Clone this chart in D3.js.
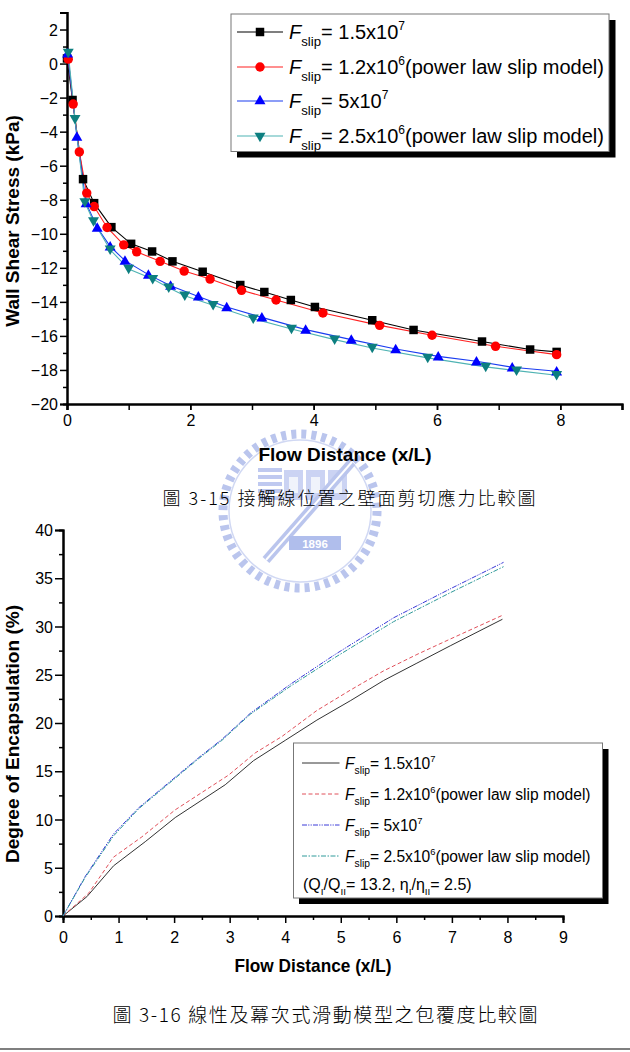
<!DOCTYPE html>
<html><head><meta charset="utf-8">
<script src="https://cdn.jsdelivr.net/npm/d3@7"></script>
<style>body{margin:0;background:#fff}svg{display:block}</style>
</head><body>
<svg id="c" width="630" height="1052"></svg>
<script>
// ---------- DATA ----------
// Figure 3-15: wall shear stress (kPa) vs flow distance (x/L)
const shearXTicks = [0, 2, 4, 6, 8];
const shearYTicks = [-20, -18, -16, -14, -12, -10, -8, -6, -4, -2, 0, 2];
const shearBlackX = [0.0, 0.09, 0.26, 0.44, 0.72, 1.04, 1.38, 1.71, 2.2, 2.81, 3.2, 3.63, 4.02, 4.95, 5.62, 6.73, 7.51, 7.94];
const shearBlackY = [0.3, -2.14, -6.79, -8.2, -9.61, -10.59, -11.04, -11.62, -12.23, -13.01, -13.42, -13.89, -14.3, -15.08, -15.65, -16.33, -16.8, -16.94];
const shearRedX = [0.02, 0.1, 0.2, 0.32, 0.44, 0.65, 0.92, 1.13, 1.51, 1.9, 2.32, 2.83, 3.39, 4.15, 5.07, 5.92, 6.95, 7.94];
const shearRedY = [0.26, -2.38, -5.19, -7.61, -8.4, -9.63, -10.65, -11.06, -11.62, -12.19, -12.66, -13.32, -13.89, -14.65, -15.38, -15.96, -16.61, -17.1];
const shearBlueX = [0.01, 0.16, 0.31, 0.49, 0.7, 0.94, 1.32, 1.68, 2.13, 2.59, 3.16, 3.87, 4.61, 5.33, 6.02, 6.64, 7.22, 7.94];
const shearBlueY = [0.6, -4.29, -8.2, -9.63, -10.74, -11.58, -12.4, -13.05, -13.68, -14.3, -14.91, -15.63, -16.22, -16.77, -17.2, -17.49, -17.84, -18.08];
const shearTealX = [0.02, 0.13, 0.29, 0.43, 0.7, 1.0, 1.39, 1.65, 1.91, 2.37, 3.02, 3.64, 4.34, 4.95, 5.85, 6.79, 7.29, 7.94];
const shearTealY = [0.63, -3.27, -8.16, -9.28, -10.94, -12.07, -12.66, -13.17, -13.64, -14.2, -14.99, -15.59, -16.22, -16.71, -17.29, -17.82, -18.04, -18.31];

// Figure 3-16: degree of encapsulation (%) vs flow distance (x/L)
const encXTicks = [0, 1, 2, 3, 4, 5, 6, 7, 8, 9];
const encYTicks = [0, 5, 10, 15, 20, 25, 30, 35, 40];
const encBlackX = [0, 0.43, 0.91, 1.48, 2.02, 2.92, 3.43, 4.0, 4.57, 5.17, 5.77, 6.37, 6.97, 7.91];
const encBlackY = [0, 2.0, 5.2, 7.7, 10.2, 13.6, 16.1, 18.2, 20.3, 22.3, 24.4, 26.2, 28.0, 30.75];
const encRedX = [0, 0.46, 0.91, 1.42, 2.02, 2.98, 3.46, 3.94, 4.57, 5.17, 5.77, 6.37, 6.97, 7.91];
const encRedY = [0, 2.35, 6.1, 8.2, 11.0, 14.6, 16.9, 18.6, 21.3, 23.4, 25.4, 27.1, 28.7, 31.16];
const encBlueX = [0, 0.4, 0.91, 1.36, 1.9, 2.44, 2.86, 3.37, 4.09, 4.87, 5.95, 6.97, 7.93];
const encBlueY = [0, 4.1, 8.5, 11.2, 13.8, 16.4, 18.3, 21.0, 24.0, 27.0, 30.9, 33.9, 36.65];
const encTealX = [0, 0.4, 0.91, 1.36, 1.9, 2.44, 2.86, 3.37, 4.09, 4.87, 5.95, 6.97, 7.93];
const encTealY = [0, 4.0, 8.3, 11.1, 13.7, 16.3, 18.2, 20.9, 23.8, 26.7, 30.5, 33.5, 36.2];

// Legend texts
const legendValues = ["1.5x10", "1.2x10", "5x10", "2.5x10"];
const legendExps = ["7", "6", "7", "6"];
const legendTails = ["", "(power law slip model)", "", "(power law slip model)"];

const topTitleY = "Wall Shear Stress (kPa)";
const topTitleX = "Flow Distance (x/L)";
const botTitleY = "Degree of Encapsulation (%)";
const botTitleX = "Flow Distance (x/L)";
const caption1 = "圖 3-15 接觸線位置之壁面剪切應力比較圖";
const caption2 = "圖 3-16 線性及冪次式滑動模型之包覆度比較圖";

// ---------- DRAW ----------
(function () {
const FONT = "'Liberation Sans', Arial, sans-serif";
const svg = d3.select("#c");
svg.append("rect").attr("width", 630).attr("height", 1052).attr("fill", "#fff");

// watermark (faint logo, shapes only)
(function () {
  const w = svg.append("g").attr("opacity", 0.85);
  const cx = 300, cy = 511;
  w.append("circle").attr("cx", cx).attr("cy", cy).attr("r", 77)
    .attr("fill", "none").attr("stroke", "#aebbeb").attr("stroke-width", 9)
    .attr("stroke-dasharray", "5,5.1");
  w.append("circle").attr("cx", cx).attr("cy", cy).attr("r", 71)
    .attr("fill", "none").attr("stroke", "#c9d2f2").attr("stroke-width", 1.5);
  for (let i = 0; i < 5; i++) {
    w.append("rect").attr("x", 258).attr("y", 468 + i * 7).attr("width", 24).attr("height", 4).attr("fill", "#b4c0ee");
  }
  for (let i = 0; i < 3; i++) {
    w.append("rect").attr("x", 284 + i * 22).attr("y", 470).attr("width", 19).attr("height", 30)
      .attr("fill", "#c2ccf1");
    w.append("rect").attr("x", 289 + i * 22).attr("y", 477).attr("width", 9).attr("height", 16)
      .attr("fill", "#eef1fb");
  }
  w.append("line").attr("x1", 352).attr("y1", 462).attr("x2", 266).attr("y2", 560)
    .attr("stroke", "#aebbeb").attr("stroke-width", 9);
  w.append("line").attr("x1", 352).attr("y1", 462).attr("x2", 266).attr("y2", 560)
    .attr("stroke", "#fff").attr("stroke-width", 2);
  w.append("rect").attr("x", 289).attr("y", 536).attr("width", 52).attr("height", 14).attr("fill", "#a3b3e9");
  w.append("text").attr("x", 315).attr("y", 547.5).attr("text-anchor", "middle")
    .attr("font-family", FONT).attr("font-weight", "bold").attr("font-size", 11.5).attr("fill", "#fff").text("1896");
})();

function drawAxes(g, x, y, o) {
  const xa = g.append("g").attr("transform", `translate(0,${y.range()[0]})`);
  xa.call(d3.axisBottom(x).tickValues(o.xMinor).tickSize(o.xMinorLen).tickFormat(""));
  xa.append("g").call(d3.axisBottom(x).tickValues(o.xTicks).tickSize(o.xMajorLen).tickFormat(d3.format("d")));
  const ya = g.append("g").attr("transform", `translate(${x.range()[0]},0)`);
  ya.call(d3.axisLeft(y).tickValues(o.yMinor).tickSize(o.yMinorLen).tickFormat(""));
  ya.append("g").call(d3.axisLeft(y).tickValues(o.yTicks).tickSize(o.yMajorLen).tickFormat(d3.format("d")));
  [xa, ya].forEach(a => {
    a.selectAll("path.domain").attr("stroke", "#000").attr("stroke-width", 2);
    a.selectAll(".tick line").attr("stroke", "#000").attr("stroke-width", 1.5);
    a.selectAll("text").attr("font-family", FONT).attr("font-size", o.fs).attr("fill", "#000");
  });
  xa.selectAll("text").attr("dy", null).attr("y", o.xLabelY);
  ya.selectAll("text").attr("x", -o.yLabelX).attr("dy", "0.35em");
}

// ----- Top chart -----
const gx1 = d3.scaleLinear().domain([0, 9]).range([67, 622]);
const gy1 = d3.scaleLinear().domain([-20, 3]).range([404, 12.5]);
const topG = svg.append("g");
drawAxes(topG, gx1, gy1, {
  xTicks: shearXTicks, xMinor: d3.range(0, 10, 1), xMajorLen: 6, xMinorLen: 6,
  yTicks: shearYTicks, yMinor: d3.range(-19, 4, 2), yMajorLen: 7, yMinorLen: 4,
  fs: 16, xLabelY: 22, yLabelX: 9
});
topG.append("text").attr("transform", "translate(18.5,221) rotate(-90)")
  .attr("text-anchor", "middle").attr("font-family", FONT).attr("font-weight", "bold")
  .attr("font-size", 19).text(topTitleY);
topG.append("text").attr("x", 345).attr("y", 461).attr("text-anchor", "middle")
  .attr("font-family", FONT).attr("font-weight", "bold").attr("font-size", 19).text(topTitleX);

const topSeries = [
  { xs: shearBlackX, ys: shearBlackY, line: "#000", fill: "#000", sym: d3.symbolSquare, size: 72, rot: 0 },
  { xs: shearRedX, ys: shearRedY, line: "#ff2020", fill: "#ff0000", sym: d3.symbolCircle, size: 70, rot: 0 },
  { xs: shearBlueX, ys: shearBlueY, line: "#1a3cf0", fill: "#0000ff", sym: d3.symbolTriangle, size: 52, rot: 0 },
  { xs: shearTealX, ys: shearTealY, line: "#4fb3b3", fill: "#0d7f80", sym: d3.symbolTriangle, size: 52, rot: 180 }
];
const line1 = d3.line().x(d => gx1(d[0])).y(d => gy1(d[1]));
topSeries.forEach(s => {
  const pts = s.xs.map((v, i) => [v, s.ys[i]]);
  topG.append("path").datum(pts).attr("d", line1).attr("fill", "none")
    .attr("stroke", s.line).attr("stroke-width", 1.1);
});
topSeries.forEach(s => {
  const pts = s.xs.map((v, i) => [v, s.ys[i]]);
  topG.append("g").selectAll("path").data(pts).join("path")
    .attr("d", d3.symbol().type(s.sym).size(s.size))
    .attr("transform", d => `translate(${gx1(d[0])},${gy1(d[1]) + (s.sym === d3.symbolTriangle ? (s.rot ? -1 : 1) : 0)}) rotate(${s.rot})`)
    .attr("fill", s.fill);
});

function fslip(g, x, y, i, fs) {
  const t = g.append("text").attr("x", x).attr("y", y).attr("font-family", FONT)
    .attr("font-size", fs).attr("fill", "#000");
  t.append("tspan").attr("font-style", "italic").text("F");
  t.append("tspan").attr("font-size", fs * 0.66).attr("dy", fs * 0.33).text("slip");
  t.append("tspan").attr("dy", -fs * 0.33).text("= " + legendValues[i]);
  t.append("tspan").attr("font-size", fs * 0.6).attr("dy", -fs * 0.45).text(legendExps[i]);
  if (legendTails[i]) t.append("tspan").attr("dy", fs * 0.45).text(legendTails[i]);
}

// top legend
const lg1 = topG.append("g");
lg1.append("rect").attr("x", 237).attr("y", 20).attr("width", 378.5).attr("height", 137.5).attr("fill", "#000");
lg1.append("rect").attr("x", 231).attr("y", 14).attr("width", 378).attr("height", 137.5)
  .attr("fill", "#fff").attr("stroke", "#777").attr("stroke-width", 1);
const rows1 = [32, 67, 101, 136];
topSeries.forEach((s, i) => {
  lg1.append("line").attr("x1", 237).attr("x2", 283).attr("y1", rows1[i]).attr("y2", rows1[i])
    .attr("stroke", s.line).attr("stroke-width", 1.1);
  lg1.append("path").attr("d", d3.symbol().type(s.sym).size(s.size)())
    .attr("transform", `translate(260,${rows1[i]}) rotate(${s.rot})`).attr("fill", s.fill);
  fslip(lg1, 289, rows1[i] + 7, i, 20);
});

// caption 1
svg.append("text").attr("x", 349).attr("y", 505).attr("text-anchor", "middle")
  .attr("font-family", "'Noto Sans CJK TC', sans-serif").attr("font-size", 18).attr("font-weight", 300)
  .attr("textLength", 373).attr("lengthAdjust", "spacing").text(caption1);

// ----- Bottom chart -----
const gx2 = d3.scaleLinear().domain([0, 9]).range([63, 563]);
const gy2 = d3.scaleLinear().domain([0, 40]).range([916, 530]);
const botG = svg.append("g");
drawAxes(botG, gx2, gy2, {
  xTicks: encXTicks, xMinor: d3.range(0.5, 9, 1), xMajorLen: 7, xMinorLen: 4,
  yTicks: encYTicks, yMinor: d3.range(2.5, 40, 5), yMajorLen: 8, yMinorLen: 4,
  fs: 16, xLabelY: 27, yLabelX: 10
});
botG.append("text").attr("transform", "translate(18.5,734) rotate(-90)")
  .attr("text-anchor", "middle").attr("font-family", FONT).attr("font-weight", "bold")
  .attr("font-size", 19).attr("textLength", 258).attr("lengthAdjust", "spacingAndGlyphs").text(botTitleY);
botG.append("text").attr("x", 313).attr("y", 972).attr("text-anchor", "middle")
  .attr("font-family", FONT).attr("font-weight", "bold").attr("font-size", 19)
  .attr("textLength", 157).attr("lengthAdjust", "spacingAndGlyphs").text(botTitleX);

const botSeries = [
  { xs: encBlackX, ys: encBlackY, color: "#333", dash: null },
  { xs: encRedX, ys: encRedY, color: "#e0505a", dash: "4,2.5" },
  { xs: encBlueX, ys: encBlueY, color: "#3a3ad8", dash: "5,1.2,1.2,1.2,1.2,1.2" },
  { xs: encTealX, ys: encTealY, color: "#2f9a9a", dash: "5,1.5,1.5,1.5" }
];
const line2 = d3.line().x(d => gx2(d[0])).y(d => gy2(d[1]));
botSeries.forEach(s => {
  const pts = s.xs.map((v, i) => [v, s.ys[i]]);
  botG.append("path").datum(pts).attr("d", line2).attr("fill", "none")
    .attr("stroke", s.color).attr("stroke-width", 1).attr("stroke-dasharray", s.dash);
});

// bottom legend
const lg2 = botG.append("g");
lg2.append("rect").attr("x", 299).attr("y", 749).attr("width", 309.5).attr("height", 155).attr("fill", "#000");
lg2.append("rect").attr("x", 293.5).attr("y", 743).attr("width", 309).attr("height", 155)
  .attr("fill", "#fff").attr("stroke", "#777").attr("stroke-width", 1);
const rows2 = [763, 794, 825, 856];
botSeries.forEach((s, i) => {
  lg2.append("line").attr("x1", 302).attr("x2", 339.5).attr("y1", rows2[i]).attr("y2", rows2[i])
    .attr("stroke", s.color).attr("stroke-width", 1).attr("stroke-dasharray", s.dash);
  fslip(lg2, 345, rows2[i] + 6, i, 15.6);
});
(function () {
  const fs = 16;
  const t = lg2.append("text").attr("x", 303).attr("y", 890).attr("font-family", FONT).attr("font-size", fs);
  const parts = [["(Q", 0], ["I", 1], ["/Q", 0], ["II", 1], ["= 13.2, η", 0], ["I", 1], ["/η", 0], ["II", 1], ["= 2.5)", 0]];
  let state = 0;
  parts.forEach(p => {
    const ts = t.append("tspan").text(p[0]);
    if (p[1] === 1) { ts.attr("font-size", fs * 0.62); if (state === 0) ts.attr("dy", fs * 0.3); state = 1; }
    else { if (state === 1) ts.attr("dy", -fs * 0.3); state = 0; }
  });
})();

// caption 2
svg.append("text").attr("x", 325).attr("y", 1022).attr("text-anchor", "middle")
  .attr("font-family", "'Noto Sans CJK TC', sans-serif").attr("font-size", 19).attr("font-weight", 300)
  .attr("textLength", 425).attr("lengthAdjust", "spacing").text(caption2);

// bottom rule
svg.append("line").attr("x1", 0).attr("x2", 630).attr("y1", 1049).attr("y2", 1049)
  .attr("stroke", "#555").attr("stroke-width", 1.5);
})();
</script>
</body></html>
